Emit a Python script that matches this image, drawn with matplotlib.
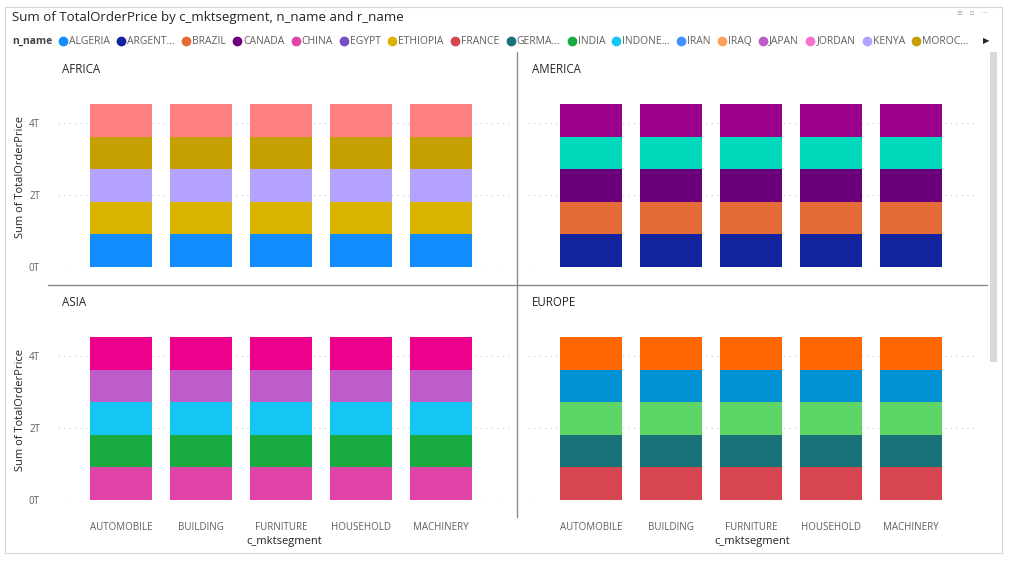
import numpy as np
import matplotlib.pyplot as plt
from matplotlib.patches import Rectangle
from matplotlib.lines import Line2D

W, H = 1023, 573
FONT = 'Open Sans'

segments = ['AUTOMOBILE', 'BUILDING', 'FURNITURE', 'HOUSEHOLD', 'MACHINERY']

## sum of TotalOrderPrice per nation (rows) and segment (cols), in trillions
africa_nations = ['ALGERIA', 'ETHIOPIA', 'KENYA', 'MOROCCO', 'MOZAMBIQUE']
africa_vals = [[0.905, 0.906, 0.904, 0.907, 0.905],
               [0.906, 0.905, 0.907, 0.904, 0.906],
               [0.904, 0.907, 0.905, 0.906, 0.905],
               [0.907, 0.905, 0.906, 0.905, 0.904],
               [0.905, 0.906, 0.904, 0.906, 0.907]]
africa_colors = ['#118DFF', '#D9B300', '#B5A1FF', '#C4A000', '#FF8080']

america_nations = ['ARGENTINA', 'BRAZIL', 'CANADA', 'PERU', 'UNITED STATES']
america_vals = [[0.906, 0.905, 0.907, 0.905, 0.906],
                [0.905, 0.907, 0.905, 0.906, 0.904],
                [0.907, 0.904, 0.906, 0.905, 0.906],
                [0.904, 0.906, 0.905, 0.907, 0.905],
                [0.906, 0.905, 0.905, 0.904, 0.907]]
america_colors = ['#12239E', '#E66C37', '#6B007B', '#01D9BC', '#9A008A']

asia_nations = ['CHINA', 'INDIA', 'INDONESIA', 'JAPAN', 'VIETNAM']
asia_vals = [[0.905, 0.906, 0.905, 0.907, 0.906],
             [0.906, 0.904, 0.908, 0.905, 0.905],
             [0.905, 0.907, 0.904, 0.906, 0.906],
             [0.907, 0.905, 0.906, 0.904, 0.905],
             [0.904, 0.906, 0.905, 0.906, 0.906]]
asia_colors = ['#E044A7', '#1AAB40', '#15C6F4', '#BE5DC9', '#EC008C']

europe_nations = ['FRANCE', 'GERMANY', 'ROMANIA', 'RUSSIA', 'UNITED KINGDOM']
europe_vals = [[0.906, 0.905, 0.906, 0.905, 0.906],
               [0.905, 0.906, 0.904, 0.907, 0.905],
               [0.906, 0.905, 0.907, 0.904, 0.906],
               [0.904, 0.907, 0.905, 0.906, 0.905],
               [0.907, 0.905, 0.906, 0.906, 0.904]]
europe_colors = ['#D64550', '#197278', '#5DD667', '#0091D5', '#FF6600']

legend_labels = ['ALGERIA', 'ARGENT…', 'BRAZIL', 'CANADA', 'CHINA', 'EGYPT', 'ETHIOPIA',
                 'FRANCE', 'GERMA…', 'INDIA', 'INDONE…', 'IRAN', 'IRAQ', 'JAPAN',
                 'JORDAN', 'KENYA', 'MOROC…']
legend_colors = ['#118DFF', '#12239E', '#E66C37', '#6B007B', '#E044A7', '#744EC2', '#D9B300',
                 '#D64550', '#197278', '#1AAB40', '#15C6F4', '#4092FF', '#FFA058', '#BE5DC9',
                 '#F472D0', '#B5A1FF', '#C4A000']

yticks = [0, 2, 4]
ytick_labels = ['0T', '2T', '4T']

plt.rcParams['font.family'] = [FONT, 'DejaVu Sans']
fig = plt.figure(figsize=(W/100, H/100), dpi=100)

def px(x0, y0, x1, y1):
    ## pixel box (top-left origin) -> figure fraction
    return [x0/W, 1 - y1/H, (x1-x0)/W, (y1-y0)/H]

## outer frame and chrome
fig.add_artist(Rectangle((5/W, 1-553/H), 997/W, 546/H, transform=fig.transFigure,
                         fill=False, ec='#d6d6d6', lw=0.8))
fig.add_artist(Rectangle((990/W, 1-362/H), 7/W, 310/H, transform=fig.transFigure,
                         fc='#d9d9d9', ec='none'))
fig.text(12/W, 1-17/H, 'Sum of TotalOrderPrice by c_mktsegment, n_name and r_name',
         fontsize=9.5, color='#252423', va='center', ha='left')
fig.text(972/W, 1-13/H, '≡   ▫   ···', fontsize=5, color='#a0a0a0', va='center', ha='center',
         family=['DejaVu Sans'])

## legend row
renderer = fig.canvas.get_renderer()
fig.text(12/W, 1-41/H, 'n_name', fontsize=7.5, fontweight='bold', color='#444444',
         va='center', ha='left')
xpos = 59
for lab, col in zip(legend_labels, legend_colors):
    fig.add_artist(Line2D([(xpos+4)/W], [1-41/H], marker='o', ms=6, color=col, mec=col,
                          transform=fig.transFigure))
    tt = fig.text((xpos+10)/W, 1-41/H, lab, fontsize=7.5, color='#605E5C', va='center', ha='left')
    w = tt.get_window_extent(renderer).width
    xpos += 10 + w + 7.3
fig.text(986/W, 1-41/H, '▶', fontsize=6, color='#252423', va='center', ha='center',
         family=['DejaVu Sans'])

## dividers
fig.add_artist(Line2D([517/W, 517/W], [1-52/H, 1-517/H], color='#8a8a8a', lw=1,
                      transform=fig.transFigure))
fig.add_artist(Line2D([48/W, 987/W], [1-285/H, 1-285/H], color='#8a8a8a', lw=1,
                      transform=fig.transFigure))

panels = [('AFRICA', africa_vals, africa_colors, (58, 87, 510, 267), True, False),
          ('AMERICA', america_vals, america_colors, (528, 87, 976, 267), False, False),
          ('ASIA', asia_vals, asia_colors, (58, 320, 510, 500), True, True),
          ('EUROPE', europe_vals, europe_colors, (528, 320, 976, 500), False, True)]

x = np.arange(len(segments))
for name, vals, cols, box, left, bottom in panels:
    ax = fig.add_axes(px(*box))
    bottoms = np.zeros(len(segments))
    for row, col in zip(vals, cols):
        ax.bar(x, row, bottom=bottoms, width=0.775, color=col, lw=0, zorder=2)
        bottoms += np.array(row)
    ax.set_xlim(-(121-58)/80, (box[2]-box[0]-63)/80)
    ax.set_ylim(0, 5)
    ax.set_yticks(yticks)
    ax.yaxis.grid(True, color='#c8c8c8', ls=(0, (1, 4)), lw=0.8, zorder=0)
    for s in ax.spines.values():
        s.set_visible(False)
    ax.tick_params(length=0)
    if left:
        ax.set_yticklabels(ytick_labels, fontsize=7, color='#605E5C')
        ax.tick_params(axis='y', pad=13)
        ax.set_ylabel('Sum of TotalOrderPrice', fontsize=8, color='#252423', labelpad=2)
    else:
        ax.set_yticklabels([])
    if bottom:
        ax.set_xticks(x)
        ax.set_xticklabels(segments, fontsize=7, color='#605E5C')
        ax.tick_params(axis='x', pad=16)
        ax.set_xlabel('c_mktsegment', fontsize=8, color='#252423', labelpad=2)
    else:
        ax.set_xticks([])
    fig.text((box[0]+4)/W, 1-(box[1]-17)/H, name, fontsize=8.3, color='#252423',
             va='center', ha='left')

fig.savefig('out.png', dpi=100)
